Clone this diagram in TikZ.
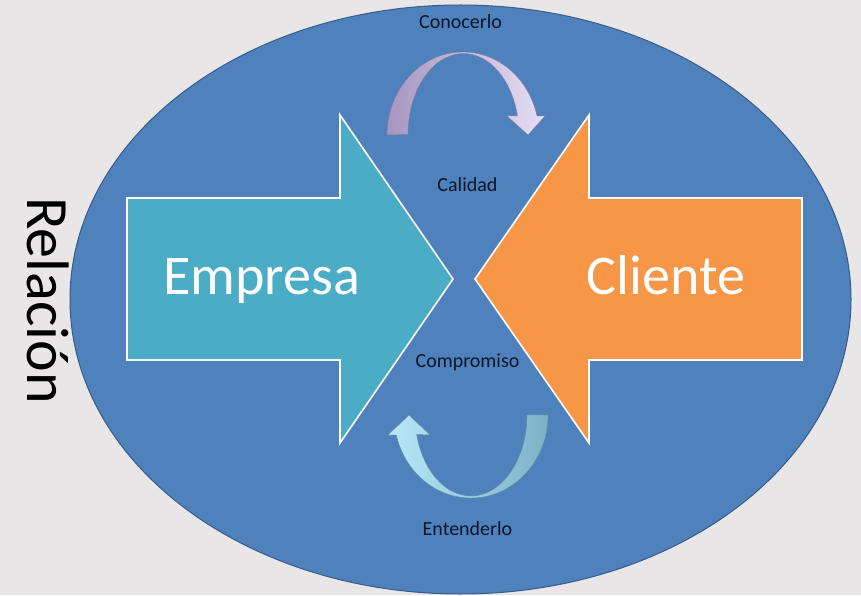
\documentclass[tikz,border=0pt]{standalone}
\usepackage{fontspec}
\setmainfont{Carlito}
\begin{document}
\begin{tikzpicture}[x=1pt,y=1pt,
  bigarrow/.style={draw=white,line width=1.6pt,line join=miter},
  biglabel/.style={inner sep=0pt,anchor=base,text=white,font=\fontsize{56}{60}\selectfont},
  smalllabel/.style={inner sep=0pt,anchor=base,text=labeltext,font=\fontsize{20}{24}\selectfont}]
\definecolor{bgc}{RGB}{232,230,231}
\definecolor{ellfill}{RGB}{79,129,189}
\definecolor{elldraw}{RGB}{56,93,138}
\definecolor{empresac}{RGB}{75,172,198}
\definecolor{clientec}{RGB}{247,150,70}
\definecolor{labeltext}{RGB}{12,22,40}
\definecolor{purpdark}{RGB}{165,150,192}
\definecolor{purplight}{RGB}{230,222,246}
\definecolor{cyanlight}{RGB}{182,232,248}
\definecolor{cyandark}{RGB}{125,178,198}
\fill[bgc] (0,0) rectangle (861,595);
\useasboundingbox (0,0) rectangle (861,595);
% big ellipse
\draw[fill=ellfill,draw=elldraw,line width=1pt] (460.5,295.5) ellipse [x radius=390.5, y radius=294.5];
% Empresa arrow
\draw[bigarrow,fill=empresac] (127,397) -- (340,397) -- (340,480) -- (453,316) -- (340,152) -- (340,235) -- (127,235) -- cycle;
% Cliente arrow
\draw[bigarrow,fill=clientec] (802,397) -- (589,397) -- (589,480) -- (475,316) -- (589,152) -- (589,235) -- (802,235) -- cycle;
% top curved arrow (Conocerlo)
\draw[draw=purpdark!80!black,line width=0.4pt,left color=purpdark,right color=purplight]
  (387,460) arc[start angle=180,end angle=13.2,x radius=76,y radius=83]
  -- (545,479) -- (528,460) -- (507,479) -- (517.5,479)
  arc[start angle=13.2,end angle=180,x radius=55.5,y radius=81] -- cycle;
% bottom curved arrow (Entenderlo)
\draw[draw=cyandark!80!black,line width=0.4pt,left color=cyanlight,right color=cyandark]
  (548,180) arc[start angle=0,end angle=-166.06,x radius=77,y radius=83]
  -- (388,160) -- (409,180) -- (430,160) -- (416.6,160.5)
  arc[start angle=-166.06,end angle=0,x radius=56,y radius=81] -- cycle;
% labels
\node[biglabel] (empresa) at (261.5,301) {Empresa};
\node[biglabel] (cliente) at (666,301) {Cliente};
\node[smalllabel] (conocerlo) at (460.5,566) {Conocerlo};
\node[smalllabel] (entenderlo) at (467.5,60) {Entenderlo};
\node[smalllabel] (calidad) at (467.5,403) {Calidad};
\node[smalllabel] (compromiso) at (467.5,228) {Compromiso};
\node[inner sep=0pt,anchor=base,rotate=-90,font=\fontsize{60}{64}\selectfont] (relacion) at (27,294.5) {Relación};
\end{tikzpicture}
\end{document}
